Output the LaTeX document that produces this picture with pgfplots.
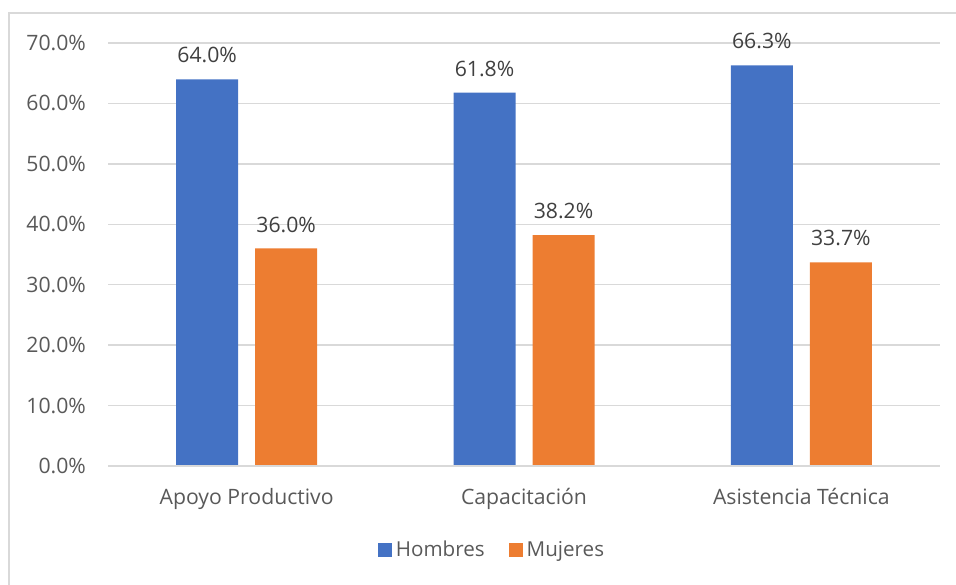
\documentclass[border=0pt]{standalone}
\usepackage{fontspec}
\setmainfont{Open Sans}
\usepackage{pgfplots}
\pgfplotsset{compat=1.18}

\definecolor{hombres}{HTML}{4472C4}
\definecolor{mujeres}{HTML}{ED7D31}
\definecolor{gridgray}{HTML}{D9D9D9}
\definecolor{txtgray}{HTML}{595959}
\definecolor{lblgray}{HTML}{404040}

\begin{document}
\begin{tikzpicture}
% 1 px of the reference = 0.5pt
\path[use as bounding box] (0,0) rectangle (478pt,292pt);
\draw[gridgray, line width=0.75pt] (4.5pt,-1pt) -- (4.5pt,285.5pt) -- (479pt,285.5pt);
\begin{axis}[
    at={(54pt,59pt)}, anchor=south west,
    scale only axis,
    width=416pt, height=211.5pt,
    ybar, bar width=31pt,
    xmin=-0.5, xmax=2.5,
    ymin=0, ymax=70,
    xtick=data,
    xticklabels={Apoyo Productivo, Capacitación, Asistencia Técnica},
    ytick={0,10,...,70},
    yticklabel={\pgfmathprintnumber[fixed,fixed zerofill,precision=1]{\tick}\%},
    /pgf/number format/assume math mode=true,
    major tick length=0pt,
    axis line style={draw=none},
    ymajorgrids, grid style={gridgray, line width=0.75pt},
    axis x line*=bottom, axis y line*=left,
    tick label style={font=\fontsize{10.6}{12}\selectfont, text=txtgray},
    xticklabel style={yshift=-7.5pt},
    yticklabel style={xshift=-7.5pt},
    nodes near coords={\pgfmathprintnumber[fixed,fixed zerofill,precision=1]{\pgfplotspointmeta}\%},
    nodes near coords style={font=\fontsize{10.6}{12}\selectfont, text=lblgray, yshift=4.5pt},
    legend columns=2,
    legend style={draw=none, fill=none, at={(0.4627,-0.1986)}, anchor=center,
        font=\fontsize{10.3}{12}\selectfont, text=txtgray,
        /tikz/every even column/.append style={column sep=10pt}},
    legend image code/.code={\fill[#1] (0pt,-3.5pt) rectangle (7pt,3.5pt);},
]
\addplot[fill=hombres, draw=none, bar shift=-19.75pt] coordinates {(0,64.0) (1,61.8) (2,66.3)};
\addplot[fill=mujeres, draw=none, bar shift=19.75pt] coordinates {(0,36.0) (1,38.2) (2,33.7)};
\draw[gridgray, line width=0.75pt] (axis cs:-0.5,0) -- (axis cs:2.5,0);
\legend{Hombres, Mujeres}
\end{axis}
\end{tikzpicture}
\end{document}
